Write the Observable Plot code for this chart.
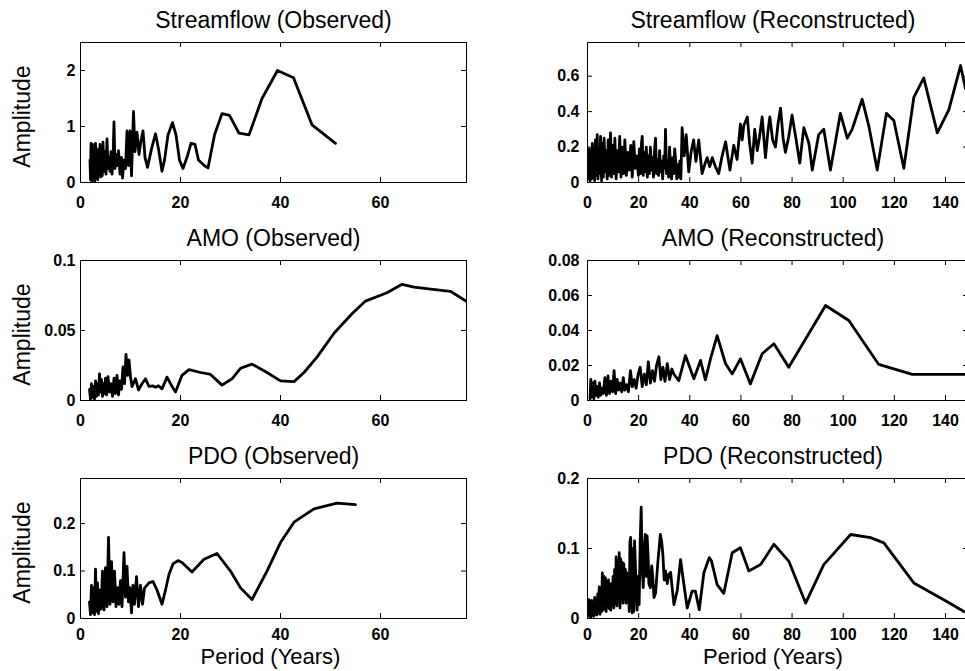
<!DOCTYPE html>
<html>
<head>
<meta charset="utf-8">
<script src="https://cdn.jsdelivr.net/npm/d3@7"></script>
<script src="https://cdn.jsdelivr.net/npm/@observablehq/plot@0.6"></script>
<style>
  html, body { margin: 0; padding: 0; background: #fff; overflow: hidden; }
  #fig { position: relative; width: 965px; height: 671px; overflow: hidden; background: #fff; }
  #fig > svg { position: absolute; }
</style>
</head>
<body>
<div id="fig"></div>
<script>
// Amplitude spectra: [period (years), amplitude] pairs for each series.
const streamObs = [
  [1.9,0.40],[2.0,0.05],[2.1,0.70],[2.25,0.02],[2.4,0.68],[2.55,0.10],[2.7,0.55],[2.85,0.02],[3.0,0.70],
  [3.15,0.08],[3.3,0.45],[3.45,0.05],[3.6,0.60],[3.75,0.15],[3.9,0.68],[4.05,0.10],[4.2,0.40],[4.35,0.12],
  [4.5,0.72],[4.7,0.20],[4.9,0.55],[5.1,0.15],[5.3,0.78],[5.5,0.25],[5.7,0.45],[5.9,0.20],[6.1,0.55],
  [6.3,0.15],[6.5,0.40],[6.7,1.08],[6.9,0.25],[7.1,0.50],[7.3,0.30],[7.6,0.57],[7.9,0.15],[8.2,0.45],
  [8.4,0.08],[8.7,0.40],[9.0,0.25],[9.3,0.92],[9.6,0.30],[9.9,0.92],[10.2,0.12],[10.6,1.27],[10.9,0.55],
  [11.3,0.90],[11.7,0.50],[12.1,0.75],[12.5,0.92],[12.9,0.45],[13.4,0.27],[14.2,0.60],[15.0,0.87],
  [15.6,0.60],[16.3,0.20],[16.8,0.40],[17.5,0.85],[18.4,1.07],[19.1,0.85],[19.8,0.40],[20.5,0.25],
  [21.3,0.45],[22.1,0.70],[22.9,0.68],[23.6,0.40],[24.8,0.30],[25.5,0.26],[26.8,0.85],[28.3,1.23],
  [29.8,1.20],[31.7,0.88],[33.7,0.85],[36.3,1.50],[39.4,2.00],[42.6,1.87],[46.3,1.03],[51.0,0.70]
];

const streamRec = [
  [0.4,0.02],[0.7,0.19],[1.0,0.01],[1.3,0.12],[1.6,0.02],[1.9,0.22],[2.2,0.03],[2.5,0.17],[2.8,0.01],
  [3.1,0.24],[3.4,0.04],[3.8,0.27],[4.1,0.02],[4.4,0.20],[4.8,0.05],[5.1,0.26],[5.5,0.01],[5.8,0.22],
  [6.2,0.03],[6.5,0.25],[6.9,0.06],[7.3,0.18],[7.7,0.02],[8.1,0.24],[8.5,0.04],[9.0,0.28],[9.4,0.03],
  [9.8,0.21],[10.3,0.05],[10.7,0.25],[11.2,0.02],[11.6,0.18],[12.1,0.06],[12.6,0.26],[13.1,0.03],
  [13.6,0.20],[14.1,0.05],[14.6,0.24],[15.2,0.04],[15.7,0.17],[16.3,0.07],[16.9,0.21],[17.5,0.03],
  [18.1,0.23],[18.7,0.08],[19.3,0.15],[19.9,0.04],[20.3,0.19],[20.7,0.05],[21.1,0.22],[21.4,0.26],
  [21.8,0.04],[22.2,0.17],[22.6,0.06],[23.0,0.20],[23.4,0.03],[23.8,0.15],[24.2,0.05],[24.6,0.20],
  [25.0,0.07],[25.4,0.14],[25.8,0.03],[26.2,0.18],[26.6,0.25],[27.0,0.05],[27.4,0.13],[27.8,0.04],
  [28.2,0.18],[28.6,0.06],[29.0,0.12],[29.4,0.02],[29.8,0.15],[30.2,0.08],[30.5,0.30],[30.9,0.05],
  [31.3,0.12],[31.7,0.03],[32.1,0.20],[32.5,0.06],[32.9,0.02],[33.3,0.14],[33.7,0.05],[34.1,0.19],
  [34.5,0.12],[34.9,0.02],[35.3,0.10],[35.7,0.03],[36.1,0.12],[36.5,0.02],[37.0,0.31],[37.8,0.15],
  [38.6,0.27],[39.6,0.06],[40.5,0.17],[41.5,0.24],[42.4,0.12],[43.5,0.24],[44.8,0.05],[45.8,0.10],
  [46.8,0.14],[47.8,0.09],[48.8,0.14],[50.0,0.09],[51.3,0.05],[52.5,0.14],[54.0,0.23],[55.7,0.07],
  [57.2,0.21],[58.5,0.13],[59.8,0.33],[60.5,0.24],[61.1,0.32],[62.5,0.37],[63.4,0.22],[64.4,0.11],
  [65.4,0.30],[66.4,0.18],[67.3,0.26],[68.3,0.37],[69.6,0.14],[70.5,0.28],[71.3,0.37],[72.4,0.24],
  [73.5,0.20],[74.5,0.33],[75.5,0.42],[76.5,0.25],[77.4,0.17],[78.7,0.26],[80.0,0.38],[81.5,0.25],
  [83.0,0.11],[84.6,0.31],[86.6,0.22],[87.9,0.07],[90.4,0.27],[92.4,0.30],[95.0,0.07],[98.9,0.39],
  [101.6,0.25],[103.5,0.30],[107.4,0.47],[110.0,0.32],[113.3,0.07],[116.9,0.39],[119.8,0.35],
  [123.7,0.08],[127.6,0.48],[131.5,0.59],[136.8,0.28],[141.3,0.41],[145.9,0.66],[147.8,0.53]
];

const amoObs = [
  [1.8,0.008],[2.0,0.001],[2.2,0.012],[2.4,0.002],[2.6,0.010],[2.8,0.001],[3.0,0.014],[3.2,0.003],
  [3.4,0.012],[3.6,0.004],[3.8,0.019],[4.0,0.006],[4.2,0.015],[4.4,0.003],[4.6,0.012],[4.8,0.005],
  [5.0,0.016],[5.2,0.004],[5.5,0.017],[5.8,0.006],[6.1,0.012],[6.4,0.003],[6.7,0.016],[7.0,0.005],
  [7.3,0.018],[7.6,0.004],[7.9,0.014],[8.2,0.008],[8.5,0.024],[8.8,0.012],[9.1,0.033],[9.4,0.018],
  [9.7,0.029],[10.0,0.017],[10.3,0.010],[11.0,0.0155],[11.6,0.0075],[12.3,0.012],[13.0,0.0155],
  [13.7,0.010],[14.4,0.0105],[15.0,0.0095],[15.6,0.0105],[16.3,0.0083],[17.3,0.0167],[18.0,0.012],
  [19.0,0.006],[20.3,0.018],[21.7,0.022],[24.0,0.020],[26.0,0.0186],[28.3,0.011],[30.3,0.0155],
  [32.0,0.023],[34.3,0.026],[37.3,0.020],[40.0,0.014],[42.7,0.0135],[44.7,0.020],[47.3,0.031],
  [50.7,0.048],[54.3,0.062],[57.0,0.071],[61.3,0.077],[64.3,0.083],[66.7,0.081],[71.3,0.079],
  [74.0,0.078],[77.1,0.071]
];

const amoRec = [
  [1.0,0.001],[1.3,0.012],[1.7,0.002],[2.1,0.010],[2.5,0.001],[2.9,0.011],[3.3,0.003],[3.7,0.008],
  [4.2,0.002],[4.7,0.010],[5.2,0.003],[5.7,0.007],[6.2,0.004],[6.8,0.013],[7.4,0.003],[8.0,0.014],
  [8.6,0.004],[9.2,0.011],[9.8,0.005],[10.4,0.017],[11.0,0.004],[11.6,0.012],[12.2,0.006],[12.8,0.010],
  [13.4,0.005],[14.0,0.013],[14.6,0.006],[15.3,0.009],[16.0,0.005],[16.8,0.017],[17.5,0.008],
  [18.3,0.012],[19.0,0.007],[19.8,0.015],[20.6,0.019],[21.4,0.008],[22.2,0.015],[23.0,0.009],
  [23.8,0.022],[24.6,0.010],[25.4,0.017],[26.2,0.011],[27.0,0.020],[27.9,0.025],[28.7,0.012],
  [29.5,0.019],[30.3,0.011],[31.2,0.021],[32.1,0.012],[33.0,0.018],[33.8,0.015],[35.7,0.0114],
  [38.3,0.0257],[41.6,0.0124],[44.2,0.0229],[46.1,0.0118],[48.1,0.0238],[50.7,0.0371],[54.0,0.021],
  [56.6,0.0152],[59.8,0.0238],[63.7,0.0095],[68.3,0.0267],[72.9,0.0324],[78.7,0.019],[93.1,0.0543],
  [102.2,0.0457],[113.9,0.0206],[127.0,0.0149],[147.8,0.0149]
];

const pdoObs = [
  [1.8,0.035],[2.0,0.008],[2.2,0.070],[2.4,0.012],[2.6,0.065],[2.8,0.008],[3.0,0.104],[3.2,0.015],
  [3.4,0.075],[3.6,0.010],[3.8,0.060],[4.1,0.020],[4.4,0.100],[4.7,0.018],[5.0,0.107],[5.3,0.025],
  [5.6,0.171],[5.9,0.030],[6.2,0.120],[6.5,0.035],[6.8,0.100],[7.1,0.025],[7.4,0.065],[7.7,0.030],
  [8.0,0.080],[8.3,0.025],[8.7,0.139],[9.0,0.045],[9.3,0.110],[9.6,0.035],[9.9,0.065],[10.2,0.012],
  [10.5,0.070],[10.8,0.030],[11.2,0.088],[11.6,0.025],[12.0,0.070],[12.4,0.030],[12.8,0.064],
  [13.7,0.075],[14.5,0.078],[15.3,0.060],[16.3,0.030],[17.0,0.060],[17.7,0.093],[18.5,0.115],
  [19.5,0.122],[20.3,0.118],[22.3,0.098],[24.7,0.125],[27.3,0.137],[30.0,0.100],[32.0,0.0645],
  [34.3,0.040],[37.3,0.100],[40.0,0.160],[42.7,0.203],[46.7,0.231],[51.3,0.243],[55.0,0.240]
];

const pdoRec = [
  [0.5,0.027],[0.7,0.003],[1.0,0.024],[1.3,0.002],[1.6,0.026],[1.9,0.004],[2.2,0.018],[2.5,0.003],
  [2.8,0.030],[3.1,0.006],[3.4,0.022],[3.7,0.005],[4.0,0.035],[4.3,0.008],[4.6,0.045],[4.9,0.006],
  [5.2,0.040],[5.5,0.010],[5.8,0.065],[6.1,0.012],[6.4,0.060],[6.7,0.015],[7.0,0.058],[7.3,0.010],
  [7.6,0.052],[7.9,0.018],[8.2,0.055],[8.5,0.014],[8.8,0.048],[9.1,0.012],[9.4,0.050],[9.7,0.020],
  [10.0,0.060],[10.3,0.015],[10.6,0.070],[10.9,0.022],[11.2,0.088],[11.5,0.018],[11.8,0.080],
  [12.1,0.025],[12.4,0.094],[12.7,0.015],[13.0,0.085],[13.3,0.030],[13.6,0.080],[13.9,0.022],
  [14.2,0.078],[14.5,0.028],[14.8,0.070],[15.1,0.022],[15.4,0.065],[15.7,0.030],[16.0,0.055],
  [16.3,0.010],[16.6,0.110],[16.9,0.116],[17.2,0.035],[17.5,0.008],[17.8,0.100],[18.1,0.010],
  [18.4,0.111],[18.7,0.080],[19.0,0.045],[19.4,0.012],[19.8,0.060],[20.2,0.020],[20.6,0.110],
  [21.0,0.159],[21.4,0.070],[21.8,0.044],[22.2,0.100],[22.6,0.120],[23.0,0.060],[23.3,0.118],
  [23.7,0.090],[24.0,0.050],[24.6,0.044],[25.1,0.075],[25.5,0.060],[26.0,0.030],[26.6,0.036],
  [27.1,0.060],[27.5,0.080],[28.0,0.100],[28.5,0.120],[29.0,0.110],[29.5,0.090],[30.0,0.055],
  [30.5,0.068],[31.2,0.050],[31.8,0.063],[32.5,0.066],[33.8,0.0197],[35.1,0.040],[36.4,0.084],
  [37.7,0.0485],[39.0,0.015],[40.9,0.039],[42.2,0.039],[43.7,0.0125],[45.5,0.065],[47.6,0.087],
  [48.5,0.082],[50.7,0.0485],[53.3,0.036],[56.6,0.094],[59.8,0.101],[63.1,0.068],[67.7,0.077],
  [72.9,0.106],[78.7,0.082],[85.3,0.022],[92.4,0.077],[102.9,0.120],[110.7,0.1155],[115.9,0.108],
  [127.6,0.0508],[140.0,0.0254],[147.2,0.010]
];

// Panel titles, axis limits and tick values
const titles = [
  "Streamflow (Observed)", "Streamflow (Reconstructed)",
  "AMO (Observed)", "AMO (Reconstructed)",
  "PDO (Observed)", "PDO (Reconstructed)"
];
const series = [streamObs, streamRec, amoObs, amoRec, pdoObs, pdoRec];
const xMax = [77.2, 149, 77.2, 149, 77.2, 149];
const yMax = [2.5, 0.79, 0.1, 0.08, 0.295, 0.2];
const xTicksObs = [0, 20, 40, 60];
const xTicksRec = [0, 20, 40, 60, 80, 100, 120, 140];
const yTicks = [
  [0, 1, 2], [0, 0.2, 0.4, 0.6],
  [0, 0.05, 0.1], [0, 0.02, 0.04, 0.06, 0.08],
  [0, 0.1, 0.2], [0, 0.1, 0.2]
];
const yLabel = "Amplitude";
const xLabel = "Period (Years)";

const font = "'Liberation Sans', Arial, Helvetica, sans-serif";
const fig = document.getElementById("fig");
const boxTops = [42, 260, 478];
const innerH = 140;
const tick = 5;

series.forEach((data, i) => {
  const row = Math.floor(i / 2), col = i % 2;
  const left = col === 0 ? 0 : 490;
  const marginLeft = col === 0 ? 80 : 97;
  const innerW = col === 0 ? 386 : 381;
  const marginRight = 12;
  const marginTop = 42;
  const marginBottom = 54;
  const xt = col === 0 ? xTicksObs : xTicksRec;
  const yt = yTicks[i];
  const rows = data.map(([p, a]) => ({p, a}));

  const marks = [
    Plot.line(rows, {x: "p", y: "a", stroke: "#000", strokeWidth: 2.8, strokeLinejoin: "round", clip: true}),
    Plot.frame({stroke: "#000", strokeWidth: 1}),
    Plot.tickX(xt, {x: d => d, insetTop: innerH - tick, stroke: "#000"}),
    Plot.tickX(xt, {x: d => d, insetBottom: innerH - tick, stroke: "#000"}),
    Plot.tickY(yt, {y: d => d, insetRight: innerW - tick, stroke: "#000"}),
    Plot.tickY(yt, {y: d => d, insetLeft: innerW - tick, stroke: "#000"}),
    Plot.axisX(xt, {tickSize: 0, tickPadding: row === 2 ? 10 : 14, fontSize: 16, fontWeight: "bold", label: null, tickFormat: d => String(d)}),
    Plot.axisY(yt, {tickSize: 0, tickPadding: col === 0 ? 5 : 8, fontSize: 16, fontWeight: "bold", label: null, tickFormat: d => String(d)}),
    Plot.text([titles[i]], {frameAnchor: "top", lineAnchor: "middle", textAnchor: "middle",
      dy: -22, dx: col === 0 ? 0 : -5, fontSize: 23, fill: "#000"})
  ];
  if (col === 0) {
    marks.push(Plot.text([yLabel], {frameAnchor: "left", textAnchor: "middle", lineAnchor: "middle",
      dx: -58, dy: 4, rotate: -90, fontSize: 23, fill: "#000"}));
  }
  if (row === 2) {
    marks.push(Plot.text([xLabel], {frameAnchor: "bottom", textAnchor: "middle", lineAnchor: "middle",
      dy: 38, dx: col === 0 ? -3 : -5, fontSize: 22, fill: "#000"}));
  }

  const svg = Plot.plot({
    width: marginLeft + innerW + marginRight,
    height: marginTop + innerH + marginBottom,
    marginLeft, marginRight, marginTop, marginBottom,
    style: {background: "transparent", overflow: "visible", maxWidth: "none", fontFamily: font, color: "#000"},
    x: {domain: [0, xMax[i]]},
    y: {domain: [0, yMax[i]]},
    marks
  });
  svg.style.left = left + "px";
  svg.style.top = (boxTops[row] - marginTop) + "px";
  fig.appendChild(svg);
});
</script>
</body>
</html>
